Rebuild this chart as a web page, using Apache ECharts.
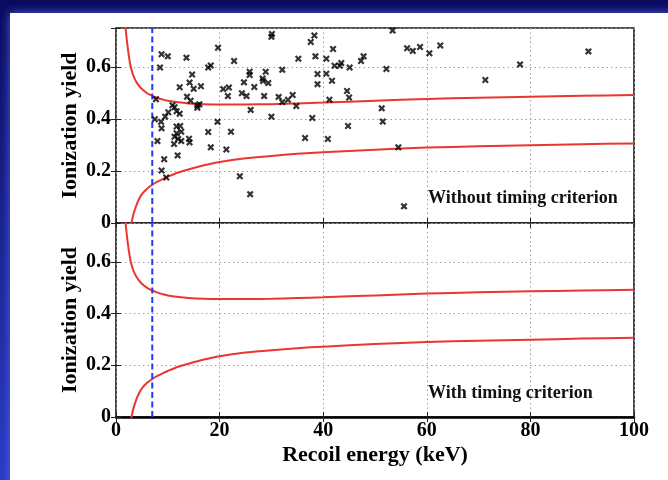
<!DOCTYPE html>
<html>
<head>
<meta charset="utf-8">
<script src="https://cdn.jsdelivr.net/npm/echarts@6/dist/echarts.min.js"></script>
<style>
  html, body { margin: 0; padding: 0; background: #0a0c62; }
  #chart { width: 668px; height: 480px; }
</style>
</head>
<body>
<div id="chart"></div>
<script>
// Tick values for both panels
const xTicks = [0, 20, 40, 60, 80, 100];
const yTicks = [0, 0.2, 0.4, 0.6];
const yLabels = ['0', '0.2', '0.4', '0.6'];
const yMax = 0.75;

// Analysis threshold (keV)
const thresholdKeV = 7;

// Nuclear-recoil band limits: [recoil energy keV, ionization yield]
const bandUpper = [
  [1.6, 0.80], [1.8, 0.76], [2.0, 0.72], [2.2, 0.685], [2.5, 0.64], [2.8, 0.605],
  [3.2, 0.575], [3.6, 0.555], [4.0, 0.54], [4.5, 0.526], [5.0, 0.515], [6.0, 0.499],
  [7.0, 0.489], [8.0, 0.481], [9.0, 0.475], [10, 0.470], [12, 0.464], [14, 0.460],
  [17, 0.457], [20, 0.456], [25, 0.456], [30, 0.457], [35, 0.460], [40, 0.463],
  [50, 0.470], [60, 0.477], [70, 0.482], [80, 0.486], [90, 0.489], [100, 0.492]
];
const bandLower = [
  [2.9, -0.01], [3.0, 0], [3.2, 0.02], [3.5, 0.042], [4.0, 0.072], [4.5, 0.094],
  [5.0, 0.111], [6.0, 0.132], [7.0, 0.147], [8.0, 0.159], [9.0, 0.169], [10, 0.178],
  [12, 0.194], [14, 0.206], [17, 0.222], [20, 0.235], [25, 0.249], [30, 0.258],
  [35, 0.266], [40, 0.272], [50, 0.282], [60, 0.290], [70, 0.295], [80, 0.299],
  [90, 0.303], [100, 0.306]
];

// Events selected without the timing criterion
const eventsNoTiming = [
  [7.7,0.476],[8.8,0.649],[10.0,0.641],[8.5,0.598],[7.5,0.399],[8.0,0.315],[8.7,0.389],
  [8.8,0.364],[9.5,0.409],[10.1,0.426],[10.9,0.453],[11.3,0.445],[11.7,0.43],[12.3,0.42],
  [12.3,0.522],[13.6,0.636],[14.2,0.54],[14.7,0.571],[15.0,0.516],[13.7,0.486],[14.4,0.47],
  [15.7,0.452],[16.4,0.526],[16.1,0.457],[15.7,0.443],[11.7,0.371],[12.4,0.373],[11.7,0.345],
  [12.6,0.351],[11.3,0.332],[12.0,0.323],[12.6,0.315],[11.2,0.304],[11.9,0.26],[14.1,0.324],
  [14.2,0.31],[9.3,0.245],[8.8,0.202],[9.7,0.175],[17.8,0.598],[18.3,0.606],[17.8,0.35],
  [18.3,0.291],[19.7,0.674],[19.6,0.389],[20.7,0.515],[21.6,0.488],[21.8,0.521],[21.3,0.283],
  [22.2,0.351],[22.8,0.623],[23.9,0.18],[24.3,0.499],[24.7,0.541],[25.2,0.488],[25.8,0.582],
  [25.8,0.569],[26.0,0.435],[25.9,0.111],[26.7,0.523],[28.3,0.556],[28.4,0.546],[28.6,0.488],
  [28.9,0.582],[29.4,0.538],[30.0,0.716],[30.1,0.727],[30.0,0.409],[31.4,0.485],[32.1,0.589],
  [32.1,0.465],[33.2,0.474],[34.1,0.492],[34.8,0.45],[35.2,0.632],[36.5,0.327],[37.6,0.696],
  [38.3,0.721],[37.9,0.404],[38.5,0.641],[38.9,0.573],[38.9,0.534],[40.6,0.632],[40.6,0.574],
  [40.9,0.323],[41.2,0.474],[41.7,0.547],[41.9,0.669],[42.2,0.605],[43.2,0.605],[43.5,0.615],
  [45.1,0.598],[44.6,0.508],[45.0,0.483],[44.8,0.373],[47.3,0.623],[47.8,0.641],[51.3,0.441],
  [51.5,0.39],[53.4,0.74],[56.2,0.672],[57.3,0.662],[58.7,0.677],[60.5,0.653],[62.6,0.683],
  [52.2,0.592],[54.5,0.291],[55.6,0.064],[71.3,0.55],[78.0,0.61],[91.2,0.66]
];

const panelLabels = ['Without timing criterion', 'With timing criterion'];

const serif = '"Liberation Serif", "DejaVu Serif", serif';
const red = '#ea3530';
const blue = '#1d3cff';
const crossSymbol = 'path://M0,2.2L2.2,0L5,2.8L7.8,0L10,2.2L7.2,5L10,7.8L7.8,10L5,7.2L2.2,10L0,7.8L2.8,5Z';

const chart = echarts.init(document.getElementById('chart'), null, { renderer: 'canvas' });

const grids = [
  { left: 116, right: 34, top: 28, height: 195 },
  { left: 116, right: 34, top: 223, height: 194 }
];

function yLabelFor(v) {
  for (let i = 0; i < yTicks.length; i++) {
    if (Math.abs(v - yTicks[i]) < 1e-6) return yLabels[i];
  }
  return '';
}

const tickStyle = { show: true, inside: true, length: 5, lineStyle: { color: '#222', width: 1 } };
const gridLineStyle = { show: true, lineStyle: { color: '#a0a0a0', width: 1, type: [1.5, 3] } };

function xAxisFor(gridIndex, position, withLabels) {
  const ax = {
    type: 'value', gridIndex, position,
    min: xTicks[0], max: xTicks[xTicks.length - 1], interval: xTicks[1] - xTicks[0],
    axisLine: { show: false },
    axisTick: tickStyle,
    splitLine: position === 'bottom' ? gridLineStyle : { show: false },
    axisLabel: { show: false }
  };
  if (withLabels) {
    ax.axisLabel = { show: true, margin: 4, color: '#000', fontFamily: serif, fontWeight: 'bold', fontSize: 20 };
    ax.name = 'Recoil energy (keV)';
    ax.nameLocation = 'middle';
    ax.nameGap = 27;
    ax.nameMoveOverlap = false;
    ax.nameTextStyle = { color: '#000', fontFamily: serif, fontWeight: 'bold', fontSize: 22 };
  }
  if (gridIndex === 1 && position === 'top') {
    ax.axisLine = { show: true, lineStyle: { color: '#000', width: 2.5 } };
  }
  return ax;
}

function yAxisFor(gridIndex, position) {
  const ax = {
    type: 'value', gridIndex, position,
    min: 0, max: yMax, interval: yTicks[1] - yTicks[0],
    axisLine: { show: false },
    axisTick: tickStyle,
    splitLine: position === 'left' ? gridLineStyle : { show: false },
    axisLabel: { show: false }
  };
  if (position === 'left') {
    ax.axisLabel = {
      show: true, margin: 5, color: '#000', fontFamily: serif, fontWeight: 'bold', fontSize: 20,
      formatter: yLabelFor
    };
    ax.name = 'Ionization yield';
    ax.nameLocation = 'middle';
    ax.nameGap = 35;
    ax.nameRotate = 90;
    ax.nameMoveOverlap = false;
    ax.nameTextStyle = { color: '#000', fontFamily: serif, fontWeight: 'bold', fontSize: 22 };
  }
  return ax;
}

function curve(data, xi, yi) {
  return {
    type: 'line', xAxisIndex: xi, yAxisIndex: yi, data,
    showSymbol: false, smooth: 0.3, clip: true,
    lineStyle: { color: red, width: 2 }, z: 3, silent: true
  };
}

function thresholdLine(xi, yi) {
  return {
    type: 'line', xAxisIndex: xi, yAxisIndex: yi,
    data: [[thresholdKeV, 0], [thresholdKeV, yMax]],
    showSymbol: false, clip: true,
    lineStyle: { color: blue, width: 2, type: [6, 3.5] }, z: 4, silent: true
  };
}

const option = {
  animation: false,
  backgroundColor: {
    type: 'linear', x: 0, y: 0, x2: 0, y2: 1,
    colorStops: [{ offset: 0, color: '#090b5e' }, { offset: 1, color: '#2b3cc4' }]
  },
  graphic: [
    {
      type: 'rect', z: -10, silent: true,
      shape: { x: 10, y: 13, width: 700, height: 520 },
      style: { fill: '#ffffff', shadowBlur: 9, shadowColor: 'rgba(80,100,235,0.95)' }
    },
    {
      type: 'text', left: 428, top: 189, silent: true,
      style: { text: panelLabels[0], fill: '#111', font: 'bold 18px ' + serif }
    },
    {
      type: 'text', left: 428, top: 384, silent: true,
      style: { text: panelLabels[1], fill: '#111', font: 'bold 18px ' + serif }
    }
  ],
  grid: grids.map(g => Object.assign({ show: true, borderColor: '#1a1a1a', borderWidth: 1.6, backgroundColor: '#fff' }, g)),
  xAxis: [
    xAxisFor(0, 'bottom', false),
    xAxisFor(0, 'top', false),
    xAxisFor(1, 'bottom', true),
    xAxisFor(1, 'top', false)
  ],
  yAxis: [
    yAxisFor(0, 'left'),
    yAxisFor(0, 'right'),
    yAxisFor(1, 'left'),
    yAxisFor(1, 'right')
  ],
  series: [
    curve(bandUpper, 0, 0),
    curve(bandLower, 0, 0),
    thresholdLine(0, 0),
    {
      type: 'scatter', xAxisIndex: 0, yAxisIndex: 0, data: eventsNoTiming,
      symbol: crossSymbol, symbolSize: 7,
      itemStyle: { color: '#000' }, z: 5, silent: true
    },
    curve(bandUpper, 2, 2),
    curve(bandLower, 2, 2),
    thresholdLine(2, 2)
  ]
};

chart.setOption(option);
</script>
</body>
</html>
